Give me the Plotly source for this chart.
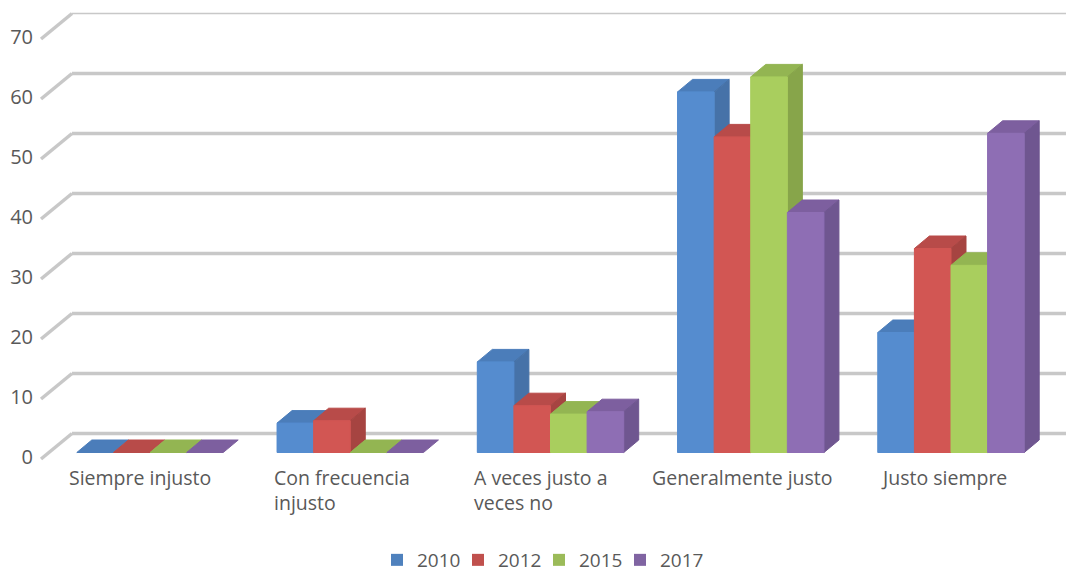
import plotly.graph_objects as go

WIDTH = 1066
HEIGHT = 570

categories = ['Siempre injusto', 'Con frecuencia<br>injusto', 'A veces justo a<br>veces no',
              'Generalmente justo', 'Justo siempre']
years = ['2010', '2012', '2015', '2017']
values_2010 = [0, 4.9, 15.1, 60.1, 20]
values_2012 = [0, 5.3, 7.8, 52.6, 34]
values_2015 = [0, 0, 6.4, 62.6, 31.2]
values_2017 = [0, 0, 6.8, 40, 53.2]
y_ticks = [0, 10, 20, 30, 40, 50, 60, 70]

series = [values_2010, values_2012, values_2015, values_2017]
legend_colors = ['#4f81bd', '#c0504d', '#9bbb59', '#8064a2']
front_colors = ['#558ccf', '#d25653', '#a9ce5e', '#8e6eb4']
top_colors = ['#4b7dba', '#b84b49', '#93b552', '#7d5f9f']
side_colors = ['#4672a8', '#a64441', '#87a54a', '#6f5690']

# escala en pixeles de la imagen
LEFT = 34
X_PX = 200.25       # pixeles por categoria
X_ZERO = 150        # centro de la primera categoria
Y_PX = 6.0          # pixeles por unidad
Y_ZERO = 452.5      # valor 0 en el plano frontal
BAR_W = 36.6 / X_PX
GROUP_W = BAR_W * 4
DEPTH_X = 15 / X_PX
DEPTH_Y = 12.5 / Y_PX
WALL_X0 = (41 - X_ZERO) / X_PX
WALL_X1 = (72 - X_ZERO) / X_PX
WALL_DOWN = 6.5 / Y_PX
WALL_UP = 19 / Y_PX
LEGEND_LEFT = 377   # una leyenda por serie, cada 81 px
LEGEND_STEP = 81
FONT = 'Open Sans'
TEXT_COLOR = '#595959'
GRID_COLOR = '#c8c8c8'

fig = go.Figure()

# rejilla con el quiebre en la pared lateral
for tick in y_ticks:
    fig.add_trace(go.Scatter(
        x=[WALL_X0, WALL_X1],
        y=[tick - WALL_DOWN, tick + WALL_UP],
        mode='lines',
        line=dict(color=GRID_COLOR, width=3.5),
        showlegend=False,
        hoverinfo='skip'
    ))
    fig.add_trace(go.Scatter(
        x=[WALL_X1, (WIDTH - X_ZERO) / X_PX],
        y=[tick + WALL_UP, tick + WALL_UP],
        mode='lines',
        line=dict(color=GRID_COLOR, width=1.5 if tick == 70 else 3.5),
        showlegend=False,
        hoverinfo='skip'
    ))

# barras reales, dan la leyenda
for s, vals in enumerate(series):
    fig.add_trace(go.Bar(
        x=list(range(len(categories))),
        y=vals,
        name=years[s],
        legend='legend' if s == 0 else f'legend{s + 1}',
        width=BAR_W,
        offset=-GROUP_W / 2 + s * BAR_W,
        marker=dict(color=legend_colors[s], line=dict(width=0))
    ))


def add_face(xs, ys, color):
    fig.add_trace(go.Scatter(
        x=xs,
        y=ys,
        mode='lines',
        fill='toself',
        fillcolor=color,
        line=dict(color=color, width=1),
        showlegend=False,
        hoverinfo='skip'
    ))


# caras 3D, de izquierda a derecha para que se tapen bien
for c in range(len(categories)):
    for s, vals in enumerate(series):
        v = vals[c]
        x0 = c - GROUP_W / 2 + s * BAR_W
        x1 = x0 + BAR_W
        add_face([x0, x0 + DEPTH_X, x1 + DEPTH_X, x1, x0],
                 [v, v + DEPTH_Y, v + DEPTH_Y, v, v], top_colors[s])
        if v > 0:
            add_face([x1, x1 + DEPTH_X, x1 + DEPTH_X, x1, x1],
                     [0, DEPTH_Y, v + DEPTH_Y, v, 0], side_colors[s])
            add_face([x0, x1, x1, x0, x0], [0, 0, v, v, 0], front_colors[s])

# etiquetas de categoria alineadas a la izquierda
label_left = [68, 273, 473, 651, 880]
for text, left in zip(categories, label_left):
    fig.add_annotation(
        x=(left - LEFT) / (WIDTH - LEFT),
        y=1 - 463 / HEIGHT,
        xref='paper',
        yref='paper',
        xanchor='left',
        yanchor='top',
        align='left',
        showarrow=False,
        borderpad=0,
        text=text,
        font=dict(family=FONT, size=19.5, color=TEXT_COLOR)
    )

fig.update_layout(
    width=WIDTH,
    height=HEIGHT,
    margin=dict(l=LEFT, r=0, t=0, b=0, autoexpand=False),
    paper_bgcolor='white',
    plot_bgcolor='white',
    barmode='overlay',
    font=dict(family=FONT, size=19, color=TEXT_COLOR),
    xaxis=dict(
        range=[(LEFT - X_ZERO) / X_PX, (WIDTH - X_ZERO) / X_PX],
        showgrid=False,
        zeroline=False,
        showticklabels=False,
        ticks=''
    ),
    yaxis=dict(
        range=[(Y_ZERO - HEIGHT) / Y_PX, Y_ZERO / Y_PX],
        tickmode='array',
        tickvals=y_ticks,
        showgrid=False,
        zeroline=False,
        ticks='',
        ticklabelshift=4,
        tickfont=dict(family=FONT, size=20, color=TEXT_COLOR)
    )
)

for s in range(len(years)):
    key = 'legend' if s == 0 else f'legend{s + 1}'
    fig.update_layout({key: dict(
        x=(LEGEND_LEFT + s * LEGEND_STEP - LEFT) / (WIDTH - LEFT),
        xanchor='left',
        y=1 - 541 / HEIGHT,
        yanchor='top',
        font=dict(family=FONT, size=19, color=TEXT_COLOR),
        bgcolor='rgba(0,0,0,0)'
    )})

# sin el margen del body la figura llega al borde de la ventana
fig.write_html("out.html", config={'displayModeBar': False},
               post_script="document.body.style.margin='0';")
